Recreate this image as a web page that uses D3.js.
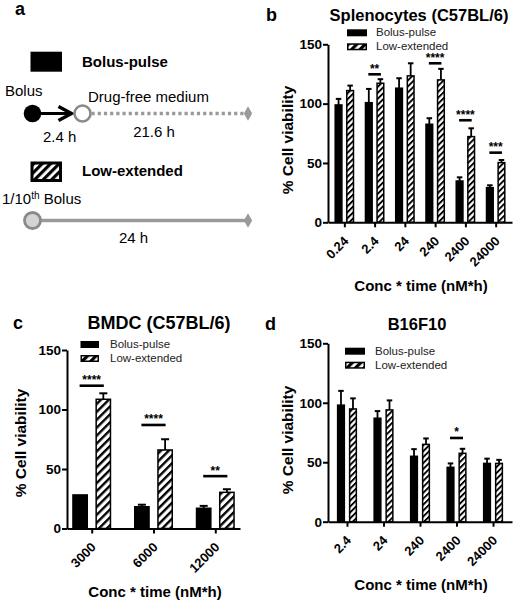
<!DOCTYPE html>
<html>
<head>
<meta charset="utf-8">
<script src="https://cdn.jsdelivr.net/npm/d3@7"></script>
<style>
  html, body { margin: 0; padding: 0; background: #fff; }
  svg { display: block; font-family: "Liberation Sans", Arial, Helvetica, sans-serif; }
</style>
</head>
<body>
<svg id="fig" width="513" height="603"></svg>
<script>
// ---------------- DATA ----------------
const seriesNames = ["Bolus-pulse", "Low-extended"];
const yTicks = [0, 50, 100, 150];
const xTitle = "Conc * time (nM*h)";
const yTitle = "% Cell viability";

// panel b: Splenocytes
const bCats = ["0.24", "2.4", "24", "240", "2400", "24000"];
const bBolus = [98.9, 100.8, 113, 82.6, 34.8, 29.2];
const bBolusErr = [5.1, 11.6, 8.4, 5.1, 3.1, 2.0];
const bLow = [111, 117.2, 123.4, 120, 72.2, 50.3];
const bLowErr = [4.2, 3.4, 10.6, 9.3, 7.0, 2.2];
const bSig = [null, "**", null, "****", "****", "***"];
const bSigLevel = [null, 124.7, null, 134, 86, 58.7];

// panel c: BMDC
const cCats = ["3000", "6000", "12000"];
const cBolus = [28.2, 18.3, 17];
const cBolusErr = [0, 1.7, 2.0];
const cLow = [108.6, 66, 30.4];
const cLowErr = [5.0, 9.0, 2.6];
const cSig = ["****", "****", "**"];
const cSigLevel = [120, 87, 44];

// panel d: B16F10
const dCats = ["2.4", "24", "240", "2400", "24000"];
const dBolus = [98, 87, 55, 45.7, 49];
const dBolusErr = [12, 6, 6, 3.3, 4];
const dLow = [94.8, 94, 65, 57.5, 49];
const dLowErr = [8.9, 8, 5, 3.8, 3];
const dSig = [null, null, null, "*", null];
const dSigLevel = [null, null, null, 70.4, null];

// panel a schematic labels
const schemeTimes = ["2.4 h", "21.6 h", "24 h"];

// ---------------- DRAWING ----------------
const svg = d3.select("#fig");
const defs = svg.append("defs");
function stripePattern(id, period, width) {
  const p = defs.append("pattern").attr("id", id)
    .attr("patternUnits", "userSpaceOnUse")
    .attr("width", period).attr("height", period)
    .attr("patternTransform", "rotate(45)");
  p.append("rect").attr("width", period).attr("height", period).attr("fill", "#fff");
  p.append("rect").attr("width", width).attr("height", period).attr("fill", "#000");
}
stripePattern("stripeS", 4.2, 1.9);
stripePattern("stripeL", 5.6, 2.4);
stripePattern("stripeLeg", 6, 3.2);

function panel(cfg) {
  const g = svg.append("g");
  const y = d3.scaleLinear().domain([0, 150]).range([cfg.y0, cfg.y150]);
  const x = d3.scalePoint().domain(cfg.cats).range([cfg.xLeft, cfg.xRight]).padding(cfg.pad);

  const series = [
    {vals: cfg.bolus, errs: cfg.bolusErr, off: -cfg.off, fill: "#000"},
    {vals: cfg.low, errs: cfg.lowErr, off: cfg.off, fill: `url(#${cfg.pattern})`}
  ];
  series.forEach(s => {
    cfg.cats.forEach((c, i) => {
      if (!s.errs[i]) return;
      const cx = x(c) + s.off;
      g.append("line").attr("x1", cx).attr("x2", cx)
        .attr("y1", y(s.vals[i])).attr("y2", y(s.vals[i] + s.errs[i]))
        .attr("stroke", "#000").attr("stroke-width", 1.8);
      g.append("line").attr("x1", cx - cfg.cap / 2).attr("x2", cx + cfg.cap / 2)
        .attr("y1", y(s.vals[i] + s.errs[i])).attr("y2", y(s.vals[i] + s.errs[i]))
        .attr("stroke", "#000").attr("stroke-width", 2);
    });
    g.selectAll(null).data(cfg.cats).enter().append("rect")
      .attr("x", (c) => x(c) + s.off - cfg.bw / 2 + 0.75)
      .attr("y", (c, i) => y(s.vals[i]))
      .attr("width", cfg.bw - 1.5)
      .attr("height", (c, i) => y(0) - y(s.vals[i]))
      .attr("fill", s.fill)
      .attr("stroke", "#000").attr("stroke-width", 1.5);
  });

  cfg.cats.forEach((c, i) => {
    if (!cfg.sig[i]) return;
    const ly = y(cfg.sigLevel[i]);
    g.append("line").attr("x1", x(c) - cfg.off - 0.5).attr("x2", x(c) + cfg.off + 0.5)
      .attr("y1", ly).attr("y2", ly).attr("stroke", "#000").attr("stroke-width", 2.6);
    g.append("text").attr("x", x(c)).attr("y", ly - 1.5)
      .attr("text-anchor", "middle").attr("font-size", 12).attr("font-weight", "bold")
      .text(cfg.sig[i]);
  });

  const ya = g.append("g").attr("transform", `translate(${cfg.xLeft},0)`)
    .call(d3.axisLeft(y).tickValues(yTicks).tickSize(5).tickSizeOuter(0));
  ya.select(".domain").attr("stroke-width", 2);
  ya.selectAll(".tick line").attr("stroke-width", 2);
  ya.selectAll(".tick text").attr("font-size", 13.5).attr("font-weight", "bold")
    .attr("fill", "#000").attr("x", -6).attr("font-family", "Liberation Sans, Arial, sans-serif");

  const xa = g.append("g").attr("transform", `translate(0,${cfg.y0})`)
    .call(d3.axisBottom(x).tickSize(5).tickSizeOuter(0));
  xa.select(".domain").attr("stroke-width", 2);
  xa.selectAll(".tick line").attr("stroke-width", 2);
  xa.selectAll(".tick text").attr("font-size", 13).attr("font-weight", "bold")
    .attr("fill", "#000").attr("font-family", "Liberation Sans, Arial, sans-serif")
    .attr("x", 0).attr("y", 0).attr("dy", 0)
    .attr("text-anchor", "end")
    .attr("transform", "translate(4.5,19.5) rotate(-45)");

  g.append("text").attr("x", cfg.titleX).attr("y", cfg.titleY)
    .attr("text-anchor", "middle").attr("font-size", cfg.titleSize).attr("font-weight", "bold")
    .text(cfg.title);
  g.append("text").attr("x", cfg.letterX).attr("y", cfg.titleY)
    .attr("font-size", 18).attr("font-weight", "bold").text(cfg.letter);
  g.append("text").attr("x", cfg.xtX).attr("y", cfg.xtY)
    .attr("text-anchor", "middle").attr("font-size", 15).attr("font-weight", "bold")
    .text(xTitle);
  g.append("text").attr("transform", `translate(${cfg.ytX},${cfg.ytY}) rotate(-90)`)
    .attr("text-anchor", "middle").attr("font-size", 15.5).attr("font-weight", "bold")
    .text(yTitle);

  seriesNames.forEach((n, i) => {
    const ry = cfg.legY + i * 14;
    g.append("rect").attr("x", cfg.legX + 0.75).attr("y", ry + 0.75)
      .attr("width", cfg.legW - 1.5).attr("height", 5.5)
      .attr("fill", i === 0 ? "#000" : "url(#stripeLeg)")
      .attr("stroke", "#000").attr("stroke-width", 1.5);
    g.append("text").attr("x", cfg.legTX).attr("y", ry + 7)
      .attr("font-size", 11.5).attr("fill", "#222").text(n);
  });
}

panel({
  letter: "b", letterX: 266, title: "Splenocytes (C57BL/6)", titleX: 419, titleY: 20.5, titleSize: 16.5,
  cats: bCats, bolus: bBolus, bolusErr: bBolusErr, low: bLow, lowErr: bLowErr, sig: bSig, sigLevel: bSigLevel,
  xLeft: 328, xRight: 512, pad: 0.54, y0: 222.3, y150: 44.3, off: 5.8, bw: 8.2, cap: 5.5, pattern: "stripeS",
  xtX: 421, xtY: 290.5, ytX: 293, ytY: 140,
  legX: 347, legY: 29.3, legW: 20, legTX: 376
});
panel({
  letter: "c", letterX: 13, title: "BMDC (C57BL/6)", titleX: 159, titleY: 329.3, titleSize: 18,
  cats: cCats, bolus: cBolus, bolusErr: cBolusErr, low: cLow, lowErr: cLowErr, sig: cSig, sigLevel: cSigLevel,
  xLeft: 67, xRight: 240, pad: 0.4, y0: 528.5, y150: 350, off: 11.6, bw: 15.8, cap: 8, pattern: "stripeL",
  xtX: 155, xtY: 596.5, ytX: 26, ytY: 443,
  legX: 80.5, legY: 341, legW: 18.5, legTX: 110
});
panel({
  letter: "d", letterX: 265, title: "B16F10", titleX: 417, titleY: 329.5, titleSize: 16.5,
  cats: dCats, bolus: dBolus, bolusErr: dBolusErr, low: dLow, lowErr: dLowErr, sig: dSig, sigLevel: dSigLevel,
  xLeft: 328, xRight: 512, pad: 0.52, y0: 521.7, y150: 343.3, off: 6, bw: 8.2, cap: 5.5, pattern: "stripeS",
  xtX: 421, xtY: 589.5, ytX: 293, ytY: 440,
  legX: 345, legY: 347.7, legW: 20, legTX: 375
});

// ---------------- PANEL a (schematic) ----------------
const a = svg.append("g");
const grey = "#9a9a9a", greyDark = "#8a8a8a";
const xStart = 32.5, xSwitch = 82.5, xEnd = 248;
a.append("text").attr("x", 15).attr("y", 15).attr("font-size", 18).attr("font-weight", "bold").text("a");

// Bolus-pulse
a.append("rect").attr("x", 30.5).attr("y", 51.7).attr("width", 31.5).attr("height", 20).attr("fill", "#000");
a.append("text").attr("x", 82).attr("y", 67).attr("font-size", 15).attr("font-weight", "bold").text("Bolus-pulse");
a.append("text").attr("x", 5).attr("y", 96).attr("font-size", 15).text("Bolus");
a.append("text").attr("x", 88).attr("y", 101.5).attr("font-size", 15).text("Drug-free medium");
const yA = 113.5;
a.append("line").attr("x1", xSwitch + 9).attr("x2", xEnd - 3).attr("y1", yA).attr("y2", yA)
  .attr("stroke", grey).attr("stroke-width", 3.5).attr("stroke-dasharray", "3.2,3");
a.append("line").attr("x1", xStart).attr("x2", xSwitch - 12).attr("y1", yA).attr("y2", yA)
  .attr("stroke", "#000").attr("stroke-width", 3);
a.append("path").attr("d", `M${xSwitch - 24},${yA - 7} L${xSwitch - 11},${yA} L${xSwitch - 24},${yA + 7}`)
  .attr("fill", "none").attr("stroke", "#000").attr("stroke-width", 3.4);
a.append("circle").attr("cx", xStart).attr("cy", yA).attr("r", 8.8).attr("fill", "#000");
a.append("circle").attr("cx", xSwitch).attr("cy", yA).attr("r", 8).attr("fill", "#fff")
  .attr("stroke", greyDark).attr("stroke-width", 2.6);
a.append("path").attr("d", d3.symbol().type(d3.symbolDiamond).size(60)())
  .attr("transform", `translate(${xEnd},${yA})`).attr("fill", grey);
a.append("text").attr("x", 43).attr("y", 141.5).attr("font-size", 15).text(schemeTimes[0]);
a.append("text").attr("x", 154).attr("y", 136.5).attr("text-anchor", "middle").attr("font-size", 15).text(schemeTimes[1]);

// Low-extended
a.append("rect").attr("x", 32).attr("y", 163).attr("width", 28.5).attr("height", 17.5)
  .attr("fill", "url(#stripeLeg)").attr("stroke", "#000").attr("stroke-width", 3);
a.append("text").attr("x", 82).attr("y", 175.7).attr("font-size", 15).attr("font-weight", "bold").text("Low-extended");
const t1 = a.append("text").attr("x", 2).attr("y", 203.5).attr("font-size", 15);
t1.append("tspan").text("1/10");
t1.append("tspan").attr("dy", -5).attr("font-size", 10).text("th");
t1.append("tspan").attr("dy", 5).text(" Bolus");
const yB = 220.5;
a.append("line").attr("x1", xStart).attr("x2", xEnd - 3).attr("y1", yB).attr("y2", yB)
  .attr("stroke", grey).attr("stroke-width", 3.5);
a.append("circle").attr("cx", xStart).attr("cy", yB).attr("r", 8).attr("fill", "#d4d4d4")
  .attr("stroke", greyDark).attr("stroke-width", 2.8);
a.append("path").attr("d", d3.symbol().type(d3.symbolDiamond).size(60)())
  .attr("transform", `translate(${xEnd},${yB})`).attr("fill", grey);
a.append("text").attr("x", 133.5).attr("y", 243).attr("text-anchor", "middle").attr("font-size", 15).text(schemeTimes[2]);
</script>
</body>
</html>
